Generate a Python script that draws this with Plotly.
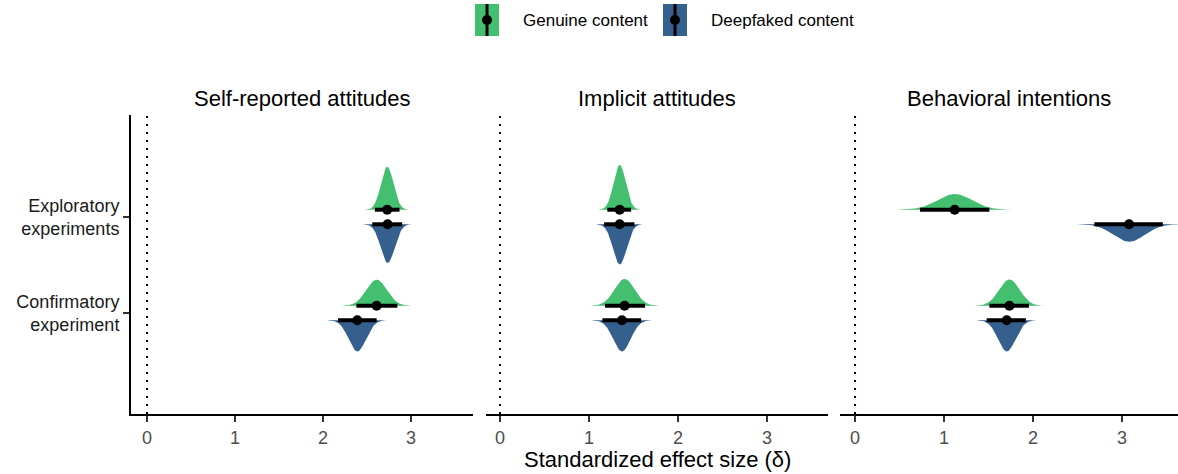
import numpy as np
import plotly.graph_objects as go

# ---------------- data ----------------
outcomes = ["Self-reported attitudes", "Implicit attitudes", "Behavioral intentions"]
studies = ["Confirmatory<br>experiment", "Exploratory<br>experiments"]  # y = 0, 1
conditions = ["Genuine content", "Deepfaked content"]

# per outcome: [Confirmatory, Exploratory]
genuine_mean = [[2.61, 2.73], [1.40, 1.345], [1.735, 1.12]]
genuine_lo = [[2.38, 2.59], [1.18, 1.206], [1.51, 0.73]]
genuine_hi = [[2.845, 2.87], [1.63, 1.473], [1.955, 1.51]]
genuine_sd = [[0.117, 0.071], [0.114, 0.068], [0.116, 0.195]]

deepfake_mean = [[2.39, 2.735], [1.37, 1.345], [1.705, 3.08]]
deepfake_lo = [[2.17, 2.56], [1.15, 1.17], [1.48, 2.69]]
deepfake_hi = [[2.61, 2.90], [1.586, 1.51], [1.92, 3.46]]
deepfake_sd = [[0.098, 0.079], [0.098, 0.076], [0.098, 0.175]]

x_ticks = [0, 1, 2, 3]

# ---------------- style ----------------
GREEN = "#44BF70"
BLUE = "#355F8D"
DODGE = 0.076
DENS_SCALE = 0.0797
FONT = "Liberation Sans, Arial, sans-serif"

W_FIG, H_FIG = 1178, 474
L, R, T, B = 131, 1178, 115, 414
PW, PH = R - L, B - T


def px(xp):
    return (xp - L) / PW


def py(yp):
    return (B - yp) / PH


domains = [[px(131), px(473)], [px(486), px(828)], [px(840), px(1178)]]
ranges = [[-0.182, 3.705], [-0.157, 3.685], [-0.169, 3.63]]

fig = go.Figure()

series = [
    (genuine_mean, genuine_lo, genuine_hi, genuine_sd, GREEN, +1),
    (deepfake_mean, deepfake_lo, deepfake_hi, deepfake_sd, BLUE, -1),
]

for p in range(3):
    xa = "x" if p == 0 else f"x{p+1}"
    ya = "y" if p == 0 else f"y{p+1}"
    # densities
    for mean, lo, hi, sd, col, side in series:
        for s in range(2):
            m, sdv = mean[p][s], sd[p][s]
            base = s + side * DODGE
            xs = np.linspace(m - 3.4 * sdv, m + 3.4 * sdv, 200)
            dens = np.exp(-0.5 * ((xs - m) / sdv) ** 2) / (sdv * np.sqrt(2 * np.pi))
            ys = base + side * DENS_SCALE * dens
            fig.add_trace(go.Scatter(
                x=np.concatenate([xs, xs[::-1]]),
                y=np.concatenate([ys, np.full_like(xs, base)]),
                fill="toself", fillcolor=col, mode="lines",
                line=dict(width=0, color=col), hoverinfo="skip",
                showlegend=False, xaxis=xa, yaxis=ya))
    # intervals and points
    for mean, lo, hi, sd, col, side in series:
        for s in range(2):
            base = s + side * DODGE
            fig.add_trace(go.Scatter(
                x=[lo[p][s], hi[p][s]], y=[base, base], mode="lines",
                line=dict(color="black", width=4), showlegend=False,
                hoverinfo="skip", xaxis=xa, yaxis=ya))
            fig.add_trace(go.Scatter(
                x=[mean[p][s]], y=[base], mode="markers",
                marker=dict(color="black", size=10), showlegend=False,
                xaxis=xa, yaxis=ya))
    # reference line at zero
    fig.add_shape(type="line", xref=xa, yref=f"{ya} domain", x0=0, x1=0, y0=0, y1=1,
                  line=dict(color="black", width=2, dash="2px,6px"), layer="below")
    # facet title
    fig.add_annotation(text=outcomes[p], xref="paper", yref="paper",
                       x=(domains[p][0] + domains[p][1]) / 2, y=py(98),
                       showarrow=False, font=dict(size=22, color="black", family=FONT),
                       xanchor="center", yanchor="middle")

axis_common = dict(
    tickvals=x_ticks, ticktext=[str(t) for t in x_ticks],
    showline=True, linecolor="black", linewidth=2,
    ticks="outside", ticklen=6, tickwidth=1.5, tickcolor="#333333",
    tickfont=dict(size=18, color="#4D4D4D", family=FONT),
    showgrid=False, zeroline=False, fixedrange=True,
)
yr = [-1.052, 2.0625]
layout = dict(
    width=W_FIG, height=H_FIG,
    margin=dict(l=L, r=W_FIG - R, t=T, b=H_FIG - B),
    plot_bgcolor="white", paper_bgcolor="white",
    font=dict(family=FONT),
    showlegend=False,
)
for p in range(3):
    key = "xaxis" if p == 0 else f"xaxis{p+1}"
    ykey = "yaxis" if p == 0 else f"yaxis{p+1}"
    layout[key] = dict(axis_common, domain=domains[p], range=ranges[p],
                       anchor="y" if p == 0 else f"y{p+1}")
    if p == 0:
        layout[ykey] = dict(range=yr, tickvals=[0, 1], ticktext=studies,
                            showline=True, linecolor="black", linewidth=2,
                            ticks="outside", ticklen=6, tickwidth=1.5, tickcolor="#333333",
                            tickfont=dict(size=18, color="#1A1A1A", family=FONT),
                            showgrid=False, zeroline=False, anchor="x")
    else:
        layout[ykey] = dict(range=yr, showticklabels=False, showline=False, ticks="",
                            showgrid=False, zeroline=False, anchor=f"x{p+1}",
                            matches="y")
fig.update_layout(**layout)

fig.add_annotation(text="Standardized effect size (δ)", xref="paper", yref="paper",
                   x=px(657), y=py(460), showarrow=False,
                   font=dict(size=22, color="black", family=FONT),
                   xanchor="center", yanchor="middle")

# ---------------- custom legend ----------------
legend_items = [(conditions[0], GREEN, 475, 521), (conditions[1], BLUE, 663, 709)]
for label, col, bx, tx in legend_items:
    fig.add_shape(type="rect", xref="paper", yref="paper",
                  x0=px(bx), x1=px(bx + 24), y0=py(36), y1=py(4),
                  fillcolor=col, line=dict(width=0))
    cx = bx + 12
    fig.add_shape(type="line", xref="paper", yref="paper",
                  x0=px(cx), x1=px(cx), y0=py(36), y1=py(4),
                  line=dict(color="black", width=3))
    fig.add_shape(type="circle", xref="paper", yref="paper",
                  x0=px(cx - 5), x1=px(cx + 5), y0=py(25), y1=py(15),
                  fillcolor="black", line=dict(width=0))
    fig.add_annotation(text=label, xref="paper", yref="paper",
                       x=px(tx), y=py(20), showarrow=False,
                       font=dict(size=17, color="black", family=FONT),
                       xanchor="left", yanchor="middle")

fig.write_html("out.html", config={"displayModeBar": False},
               post_script="document.body.style.margin='0';document.body.style.overflow='hidden';")
